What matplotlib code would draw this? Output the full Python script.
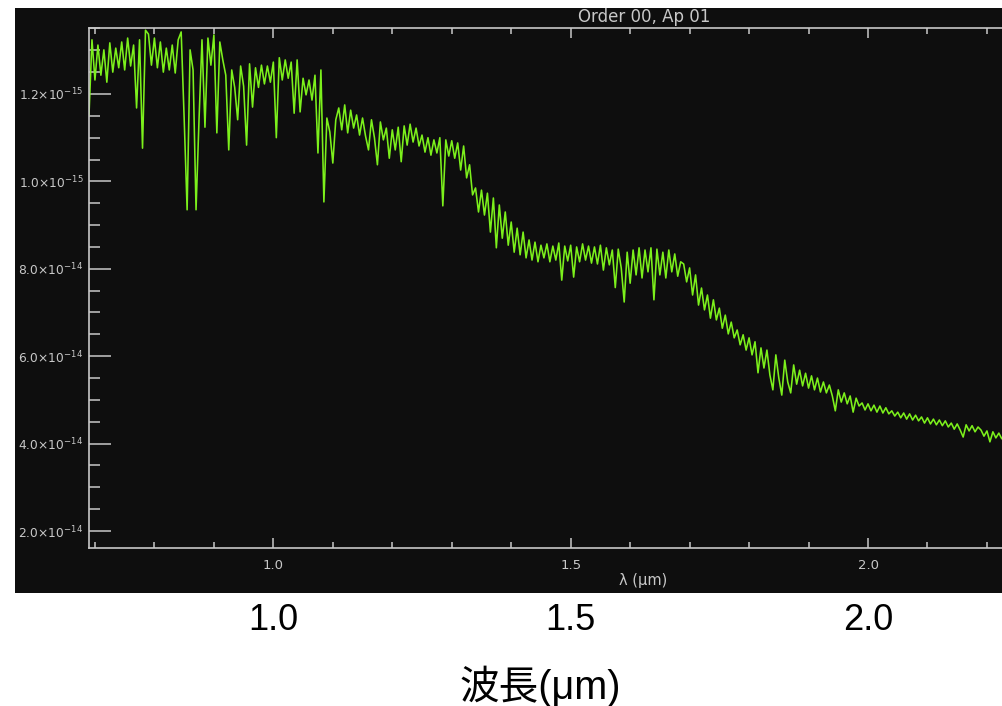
import matplotlib.pyplot as plt
from matplotlib.patches import Rectangle
from matplotlib.ticker import FixedLocator, MultipleLocator
from matplotlib.transforms import blended_transform_factory

# --- datos (flujo en unidades de 1e-14) ---
wavelength = [
    0.690, 0.695, 0.700, 0.705, 0.710, 0.715, 0.720, 0.725, 0.730, 0.735,
    0.740, 0.745, 0.750, 0.755, 0.760, 0.765, 0.770, 0.775, 0.780, 0.785,
    0.790, 0.795, 0.800, 0.805, 0.810, 0.815, 0.820, 0.825, 0.830, 0.835,
    0.840, 0.845, 0.850, 0.855, 0.860, 0.865, 0.870, 0.875, 0.880, 0.885,
    0.890, 0.895, 0.900, 0.905, 0.910, 0.915, 0.920, 0.925, 0.930, 0.935,
    0.940, 0.945, 0.950, 0.955, 0.960, 0.965, 0.970, 0.975, 0.980, 0.985,
    0.990, 0.995, 1.000, 1.005, 1.010, 1.015, 1.020, 1.025, 1.030, 1.035,
    1.040, 1.045, 1.050, 1.055, 1.060, 1.065, 1.070, 1.075, 1.080, 1.085,
    1.090, 1.095, 1.100, 1.105, 1.110, 1.115, 1.120, 1.125, 1.130, 1.135,
    1.140, 1.145, 1.150, 1.155, 1.160, 1.165, 1.170, 1.175, 1.180, 1.185,
    1.190, 1.195, 1.200, 1.205, 1.210, 1.215, 1.220, 1.225, 1.230, 1.235,
    1.240, 1.245, 1.250, 1.255, 1.260, 1.265, 1.270, 1.275, 1.280, 1.285,
    1.290, 1.295, 1.300, 1.305, 1.310, 1.315, 1.320, 1.325, 1.330, 1.335,
    1.340, 1.345, 1.350, 1.355, 1.360, 1.365, 1.370, 1.375, 1.380, 1.385,
    1.390, 1.395, 1.400, 1.405, 1.410, 1.415, 1.420, 1.425, 1.430, 1.435,
    1.440, 1.445, 1.450, 1.455, 1.460, 1.465, 1.470, 1.475, 1.480, 1.485,
    1.490, 1.495, 1.500, 1.505, 1.510, 1.515, 1.520, 1.525, 1.530, 1.535,
    1.540, 1.545, 1.550, 1.555, 1.560, 1.565, 1.570, 1.575, 1.580, 1.585,
    1.590, 1.595, 1.600, 1.605, 1.610, 1.615, 1.620, 1.625, 1.630, 1.635,
    1.640, 1.645, 1.650, 1.655, 1.660, 1.665, 1.670, 1.675, 1.680, 1.685,
    1.690, 1.695, 1.700, 1.705, 1.710, 1.715, 1.720, 1.725, 1.730, 1.735,
    1.740, 1.745, 1.750, 1.755, 1.760, 1.765, 1.770, 1.775, 1.780, 1.785,
    1.790, 1.795, 1.800, 1.805, 1.810, 1.815, 1.820, 1.825, 1.830, 1.835,
    1.840, 1.845, 1.850, 1.855, 1.860, 1.865, 1.870, 1.875, 1.880, 1.885,
    1.890, 1.895, 1.900, 1.905, 1.910, 1.915, 1.920, 1.925, 1.930, 1.935,
    1.940, 1.945, 1.950, 1.955, 1.960, 1.965, 1.970, 1.975, 1.980, 1.985,
    1.990, 1.995, 2.000, 2.005, 2.010, 2.015, 2.020, 2.025, 2.030, 2.035,
    2.040, 2.045, 2.050, 2.055, 2.060, 2.065, 2.070, 2.075, 2.080, 2.085,
    2.090, 2.095, 2.100, 2.105, 2.110, 2.115, 2.120, 2.125, 2.130, 2.135,
    2.140, 2.145, 2.150, 2.155, 2.160, 2.165, 2.170, 2.175, 2.180, 2.185,
    2.190, 2.195, 2.200, 2.205, 2.210, 2.215, 2.220, 2.225, 2.230,
]
flux = [
    11.52, 13.24, 12.32, 13.12, 12.43, 13.01, 12.27, 13.17, 12.50, 13.05,
    12.60, 13.19, 12.55, 13.28, 12.64, 13.12, 11.68, 13.24, 10.76, 13.46,
    13.37, 12.66, 13.28, 12.60, 13.19, 12.50, 13.05, 12.55, 13.12, 12.48,
    13.24, 13.42, 11.45, 9.35, 13.01, 12.55, 9.35, 11.41, 13.24, 11.24,
    13.28, 12.66, 13.35, 11.11, 13.19, 12.78, 12.43, 10.72, 12.55, 12.15,
    11.41, 12.64, 12.18, 10.83, 12.69, 11.70, 12.60, 12.15, 12.66, 12.23,
    12.64, 12.27, 12.73, 11.00, 12.83, 12.32, 12.78, 12.36, 12.73, 11.56,
    12.78, 11.59, 12.36, 11.98, 12.32, 11.86, 12.43, 10.65, 12.55, 9.53,
    11.45, 11.13, 10.42, 11.41, 11.68, 11.18, 11.75, 11.11, 11.63, 11.22,
    11.52, 11.06, 11.45, 11.04, 10.72, 11.41, 11.00, 10.38, 11.36, 10.95,
    11.22, 10.53, 11.18, 10.72, 11.24, 10.45, 11.27, 10.83, 11.31, 10.90,
    11.22, 10.81, 11.06, 10.67, 11.00, 10.60, 10.95, 10.65, 11.00, 9.44,
    10.95, 10.58, 10.93, 10.53, 10.88, 10.26, 10.81, 10.08, 10.38, 9.69,
    9.85, 9.30, 9.80, 9.23, 9.73, 8.84, 9.62, 8.48, 9.46, 8.70,
    9.30, 8.54, 9.07, 8.38, 8.93, 8.32, 8.84, 8.25, 8.66, 8.20,
    8.61, 8.16, 8.54, 8.25, 8.57, 8.16, 8.52, 8.20, 8.59, 7.74,
    8.52, 8.18, 8.54, 7.81, 8.50, 8.16, 8.57, 8.20, 8.52, 8.13,
    8.50, 8.11, 8.54, 7.97, 8.48, 8.09, 8.43, 7.57, 8.45, 8.02,
    7.24, 8.38, 7.67, 8.43, 7.86, 8.48, 7.79, 8.43, 7.93, 8.48,
    7.29, 8.45, 7.86, 8.38, 7.79, 8.43, 7.93, 8.34, 7.83, 8.16,
    8.11, 7.70, 8.02, 7.40, 7.86, 7.17, 7.56, 7.06, 7.40, 6.87,
    7.29, 6.83, 7.10, 6.64, 6.94, 6.51, 6.78, 6.42, 6.60, 6.26,
    6.49, 6.14, 6.42, 6.03, 6.33, 5.62, 6.19, 5.73, 6.14, 5.57,
    5.23, 6.03, 5.50, 5.11, 5.91, 5.41, 5.16, 5.80, 5.36, 5.68,
    5.32, 5.61, 5.27, 5.55, 5.23, 5.50, 5.18, 5.41, 5.16, 5.34,
    5.09, 4.75, 5.23, 4.95, 5.16, 4.91, 5.09, 4.72, 5.04, 4.86,
    4.93, 4.77, 4.91, 4.75, 4.88, 4.72, 4.86, 4.70, 4.82, 4.68,
    4.75, 4.63, 4.72, 4.59, 4.70, 4.56, 4.68, 4.54, 4.65, 4.52,
    4.61, 4.47, 4.59, 4.45, 4.56, 4.43, 4.54, 4.41, 4.52, 4.38,
    4.47, 4.33, 4.45, 4.31, 4.15, 4.43, 4.29, 4.41, 4.27, 4.38,
    4.31, 4.17, 4.29, 4.04, 4.27, 4.13, 4.24, 4.11, 4.22,
]

y_ticks = [2, 4, 6, 8, 10, 12]
y_labels = [r"$2.0{\times}10^{-14}$", r"$4.0{\times}10^{-14}$",
            r"$6.0{\times}10^{-14}$", r"$8.0{\times}10^{-14}$",
            r"$1.0{\times}10^{-15}$", r"$1.2{\times}10^{-15}$"]
x_ticks = [1.0, 1.5, 2.0]
x_labels = ["1.0", "1.5", "2.0"]

PANEL = "#0e0e0e"
GRAY = "#c8c8c8"
GREEN = "#7cf01c"

W, H = 1003, 706
fig = plt.figure(figsize=(W / 100, H / 100), dpi=100)
fig.patch.set_facecolor("white")


def fx(px):
    return px / W


def fy(py):
    return 1 - py / H


# panel negro (captura de IDL), por detrás de los ejes
panel = Rectangle((fx(15), fy(593)), fx(1003) - fx(15), fy(8) - fy(593),
                  transform=fig.transFigure, facecolor=PANEL,
                  edgecolor="none", zorder=-5)
fig.add_artist(panel)

ax = fig.add_axes([fx(89), fy(548), fx(1003) - fx(89), fy(28) - fy(548)])
ax.set_zorder(2)
ax.set_facecolor(PANEL)
ax.plot(wavelength, flux, color=GREEN, linewidth=1.15)
ax.set_xlim(0.690, 2.227)
ax.set_ylim(1.611, 13.51)

for side in ("left", "top", "bottom"):
    ax.spines[side].set_color(GRAY)
    ax.spines[side].set_linewidth(1.2)
ax.spines["right"].set_visible(False)

ax.yaxis.set_major_locator(FixedLocator(y_ticks))
ax.set_yticklabels(y_labels)
ax.yaxis.set_minor_locator(MultipleLocator(0.5))
ax.xaxis.set_major_locator(FixedLocator(x_ticks))
ax.set_xticklabels(x_labels)
ax.xaxis.set_minor_locator(MultipleLocator(0.1))

ax.tick_params(axis="y", which="major", direction="in", length=16, width=1.1,
               color=GRAY, labelcolor=GRAY, labelsize=8.8, pad=4, right=False)
ax.tick_params(axis="y", which="minor", direction="in", length=8, width=1.1,
               color=GRAY, right=False)
ax.tick_params(axis="x", which="major", direction="in", length=7.5, width=1.1,
               color=GRAY, labelcolor=GRAY, labelsize=9.5, pad=8, top=True)
ax.tick_params(axis="x", which="minor", direction="in", length=4, width=1.1,
               color=GRAY, top=True)

fig.text(fx(644), fy(17), "Order 00, Ap 01", ha="center", va="center",
         fontsize=12, color=GRAY)
fig.text(fx(643), fy(581), "λ (μm)", ha="center", va="center",
         fontsize=10.5, color=GRAY)

# etiquetas grandes de la diapositiva
trans = blended_transform_factory(ax.transData, fig.transFigure)
for xv, lab in zip(x_ticks, x_labels):
    ax.text(xv, fy(620), lab, transform=trans, ha="center", va="center",
            fontsize=26, color="black", family="Liberation Sans", clip_on=False)
fig.text(fx(540), fy(686), "波長(μm)", ha="center", va="center", fontsize=28.5,
         color="black", family=["Liberation Sans", "Noto Sans CJK JP"])

fig.savefig("out.png", dpi=100, facecolor="white")
